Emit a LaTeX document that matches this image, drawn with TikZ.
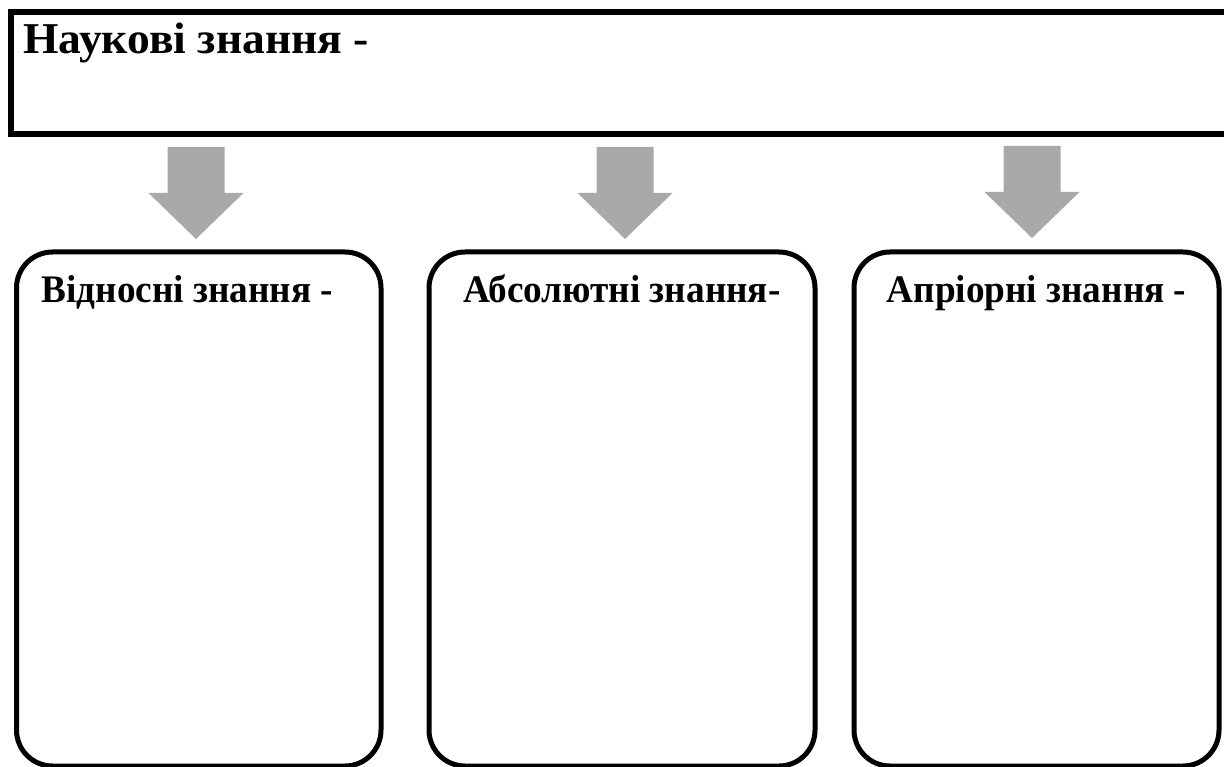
\documentclass[tikz,border=0pt]{standalone}
\usepackage{fontspec}
\setmainfont{Liberation Serif}
\begin{document}
\begin{tikzpicture}[x=1pt,y=-1pt,
  frame/.style={draw=black,line width=5.5pt,fill=white},
  card/.style={draw=black,line width=5pt,rounded corners=36pt,fill=white},
  headtext/.style={font=\bfseries\fontsize{44}{50}\selectfont,inner sep=0pt,anchor=base west},
  cardtext/.style={font=\bfseries\fontsize{39}{45}\selectfont,inner sep=0pt,anchor=base},
  downarrow/.pic={
    \fill[arrowgray] (-28.5,0) -- (28.5,0) -- (28.5,46) -- (47.5,46)
      -- (0,92) -- (-47.5,46) -- (-28.5,46) -- cycle;
  }]
\definecolor{arrowgray}{HTML}{A9A9A9}
\useasboundingbox (0,0) rectangle (1224,767);
\clip (0,0) rectangle (1224,767);

% heading bar, running off the right edge
\path[frame] (11,12) rectangle (1245,134);
\node[headtext] (title) at (23,54) {\scalebox{1.036}[1]{Наукові знання -}};

% three cards
\path[card] (16.5,252) rectangle (381,766);
\path[card] (429,252) rectangle (815,766);
\path[card] (854,252) rectangle (1219,766);
\node[cardtext] (rel) at (187.5,303) {\scalebox{0.955}[1]{Відносні знання -}};
\node[cardtext] (abs) at (622,303) {\scalebox{0.955}[1]{Абсолютні знання-}};
\node[cardtext] (apr) at (1036.5,303) {\scalebox{0.955}[1]{Апріорні знання -}};

% block arrows from the heading bar down to each card
\pic at (196,147) {downarrow};
\pic at (625,147) {downarrow};
\pic at (1032,146) {downarrow};
\end{tikzpicture}
\end{document}
